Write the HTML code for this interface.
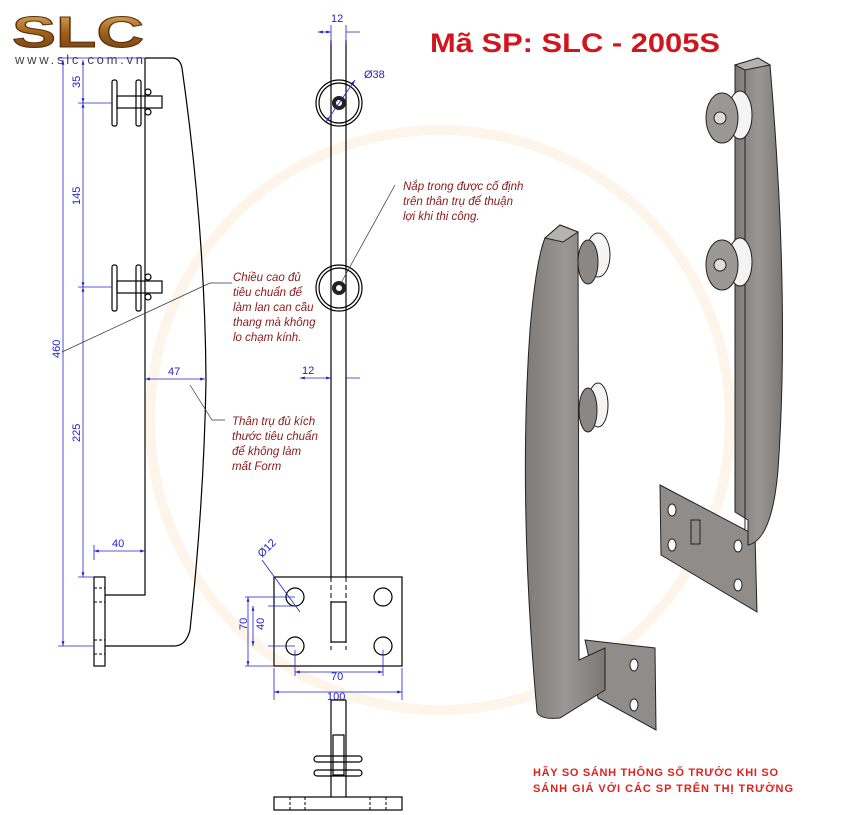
<!DOCTYPE html>
<html><head><meta charset="utf-8"><style>
html,body{margin:0;padding:0;background:#fff;}
svg{display:block;font-family:"Liberation Sans","DejaVu Sans",sans-serif;}
.b{stroke:#000;fill:none;stroke-width:1.2}
.d{stroke:#2222cc;fill:none;stroke-width:0.8}
.dt{fill:#2222cc;font-size:11px}
.n{fill:#8b1a1a;font-size:11.5px;font-style:italic}
</style></head><body>
<svg width="860" height="815" viewBox="0 0 860 815">
<defs>
<linearGradient id="g1" x1="0" x2="1"><stop offset="0" stop-color="#7d7a78"/><stop offset=".5" stop-color="#9a9795"/><stop offset="1" stop-color="#7a7775"/></linearGradient>
<linearGradient id="gold" x1="0" y1="0" x2="0" y2="1"><stop offset="0" stop-color="#e8b86a"/><stop offset=".5" stop-color="#a0601c"/><stop offset="1" stop-color="#6b3a10"/></linearGradient>
<marker id="a" viewBox="0 0 10 10" refX="10" refY="5" markerWidth="6" markerHeight="6" orient="auto-start-reverse"><path d="M0 2L10 5L0 8z" fill="#2222cc"/></marker>
</defs>
<!-- watermark -->
<circle cx="440" cy="420" r="290" fill="none" stroke="#fdf4ea" stroke-width="10"/>
<!-- logo -->
<text x="12" y="47" font-size="44" font-weight="bold" fill="url(#gold)" stroke="#5a3008" stroke-width="1" textLength="132" lengthAdjust="spacingAndGlyphs">SLC</text>
<text x="15" y="64" font-size="13" fill="#444" textLength="128">www.slc.com.vn</text>
<!-- title -->
<text x="430" y="52" font-size="27" font-weight="bold" fill="#d0161c" textLength="290" lengthAdjust="spacingAndGlyphs">Mã SP: SLC - 2005S</text>
<!-- LEFT DRAWING -->
<path class="b" d="M145 58 V595 H105"/>
<rect class="b" x="94" y="577" width="11" height="89"/>
<path d="M94 588h11M94 602h11M94 640h11M94 654h11" stroke="#000" stroke-dasharray="3 2"/>
<path class="b" d="M145 58 H172 Q180 58 182 68 Q205 230 206 380 Q204 500 190 630 Q186 646 174 646 H105"/>
<g class="b"><rect x="112" y="80" width="5" height="46" rx="2"/><rect x="136" y="80" width="5" height="46" rx="2"/><rect x="117" y="96" width="45" height="12"/><circle cx="148" cy="92" r="3"/><circle cx="148" cy="112" r="3"/>
<rect x="112" y="265" width="5" height="46" rx="2"/><rect x="136" y="265" width="5" height="46" rx="2"/><rect x="117" y="281" width="45" height="12"/><circle cx="148" cy="277" r="3"/><circle cx="148" cy="297" r="3"/></g>
<path class="d" d="M58 58H145M78 103H112M78 287H112M78 577H94M58 646H94M94 545V560"/>
<g class="d" marker-start="url(#a)" marker-end="url(#a)"><path d="M63 60V646"/><path d="M83 60V103"/><path d="M83 103V287"/><path d="M83 287V577"/><path d="M94 551H145"/><path d="M145 379H205"/></g>
<text class="dt" transform="translate(60,358) rotate(-90)">460</text>
<text class="dt" transform="translate(80,88) rotate(-90)">35</text>
<text class="dt" transform="translate(80,205) rotate(-90)">145</text>
<text class="dt" transform="translate(80,442) rotate(-90)">225</text>
<text class="dt" x="112" y="547">40</text>
<text class="dt" x="168" y="375">47</text>
<!-- MIDDLE DRAWING -->
<path class="b" d="M331 40V577M346 40V577"/>
<g class="b"><circle cx="339" cy="103" r="23"/><circle cx="339" cy="103" r="20"/><circle cx="339" cy="288" r="23"/><circle cx="339" cy="288" r="20"/></g>
<circle cx="339" cy="103" r="7" fill="#222"/><circle cx="339" cy="288" r="7" fill="#222"/>
<circle cx="339" cy="103" r="3" fill="#fff"/><circle cx="339" cy="288" r="3" fill="#fff"/>
<rect class="b" x="274" y="577" width="128" height="89"/>
<g class="b"><circle cx="295" cy="597" r="9"/><circle cx="383" cy="597" r="9"/><circle cx="295" cy="646" r="9"/><circle cx="383" cy="646" r="9"/><rect x="331" y="602" width="15" height="40"/></g>
<path d="M331 577v30M346 577v30M331 638v12M346 638v12" stroke="#000" stroke-dasharray="5 3"/>
<path class="b" d="M331 700V797M346 700V797M331 700H346"/>
<rect class="b" x="314" y="756" width="48" height="6" rx="3"/><rect class="b" x="314" y="770" width="48" height="6" rx="3"/>
<rect class="b" x="333" y="735" width="11" height="40"/>
<rect class="b" x="274" y="797" width="128" height="13"/>
<path d="M290 797v13M305 797v13M370 797v13M386 797v13" stroke="#000" stroke-dasharray="3 2"/>
<path class="d" d="M331 25V45M346 25V45M268 606H295M268 646H295M245 597H295M245 666H274M295 650V676M383 650V676M274 668V700M402 668V700M262 560L300 612"/>
<g class="d" marker-start="url(#a)" marker-end="url(#a)"><path d="M318 32H331"/><path d="M355 80L326 122"/><path d="M300 378H331"/><path d="M253 606V646"/><path d="M248 597V666"/><path d="M295 672H383"/><path d="M274 692H402"/></g>
<path class="d" d="M346 32H360M346 378H360"/>
<text class="dt" x="331" y="22">12</text>
<text class="dt" x="364" y="78">Ø38</text>
<text class="dt" x="302" y="374">12</text>
<text class="dt" transform="translate(247,630) rotate(-90)">70</text>
<text class="dt" transform="translate(264,630) rotate(-90)">40</text>
<text class="dt" x="331" y="680">70</text>
<text class="dt" x="327" y="700">100</text>
<text class="dt" transform="translate(262,558) rotate(-45)">Ø12</text>
<!-- notes -->
<path d="M395 185L341 283M232 283L210 283L62 352M225 420L212 420L190 385" stroke="#333" stroke-width=".7" fill="none"/>
<text class="n" x="403" y="190">Nắp trong được cố định</text>
<text class="n" x="403" y="205">trên thân trụ để thuận</text>
<text class="n" x="403" y="220">lợi khi thi công.</text>
<text class="n" x="233" y="281">Chiều cao đủ</text>
<text class="n" x="233" y="296">tiêu chuẩn để</text>
<text class="n" x="233" y="311">làm lan can cầu</text>
<text class="n" x="233" y="326">thang mà không</text>
<text class="n" x="233" y="341">lo chạm kính.</text>
<text class="n" x="232" y="425">Thân trụ đủ kích</text>
<text class="n" x="232" y="440">thước tiêu chuẩn</text>
<text class="n" x="232" y="455">để không làm</text>
<text class="n" x="232" y="470">mất Form</text>
<!-- 3D right post -->
<polygon points="660,485 755,535 757,612 661,555" fill="#8f8c8a" stroke="#222"/>
<rect x="691" y="520" width="9" height="24" fill="none" stroke="#222"/>
<g fill="#fff" stroke="#222"><ellipse cx="672" cy="510" rx="4" ry="6"/><ellipse cx="672" cy="545" rx="4" ry="6"/><ellipse cx="738" cy="546" rx="4" ry="6"/><ellipse cx="738" cy="585" rx="4" ry="6"/></g>
<path d="M735 65 L758 58 L770 65 Q790 300 778 470 Q772 540 748 545 L748 520 L735 512 Z" fill="url(#g1)" stroke="#222"/>
<path d="M745 70V530" stroke="#222"/>
<polygon points="735,65 758,58 770,65 745,70" fill="#b5b3b1" stroke="#222"/>
<g stroke="#222"><ellipse cx="740" cy="115" rx="12" ry="24" fill="#f4f4f4"/><ellipse cx="722" cy="118" rx="16" ry="25" fill="#9a9896"/><circle cx="720" cy="118" r="6" fill="#ddd"/>
<ellipse cx="740" cy="262" rx="12" ry="24" fill="#f4f4f4"/><ellipse cx="722" cy="265" rx="16" ry="25" fill="#9a9896"/><circle cx="720" cy="265" r="6" fill="#ddd"/></g>
<!-- 3D left post -->
<polygon points="585,640 655,648 656,730 598,698" fill="#8f8c8a" stroke="#222"/>
<g fill="#fff" stroke="#222"><ellipse cx="634" cy="665" rx="4" ry="6"/><ellipse cx="634" cy="705" rx="4" ry="6"/></g>
<path d="M545 238 L560 225 L578 232 L579 660 L605 648 L605 690 L560 718 Q540 720 537 712 Q518 500 530 330 Q536 260 545 238Z" fill="url(#g1)" stroke="#222"/>
<polygon points="545,238 560,225 578,232 563,242" fill="#b5b3b1" stroke="#222"/>
<g stroke="#222"><ellipse cx="598" cy="255" rx="12" ry="22" fill="#f4f4f4"/><ellipse cx="588" cy="262" rx="10" ry="22" fill="#8a8785"/>
<ellipse cx="598" cy="405" rx="10" ry="22" fill="#f4f4f4"/><ellipse cx="588" cy="410" rx="9" ry="22" fill="#8a8785"/></g>
<text x="533" y="776" font-size="11" font-weight="bold" fill="#e0201c" textLength="245">HÃY SO SÁNH THÔNG SỐ TRƯỚC KHI SO</text>
<text x="533" y="792" font-size="11" font-weight="bold" fill="#e0201c" textLength="260">SÁNH GIÁ VỚI CÁC SP TRÊN THỊ TRƯỜNG</text>
</svg>
</body></html>
